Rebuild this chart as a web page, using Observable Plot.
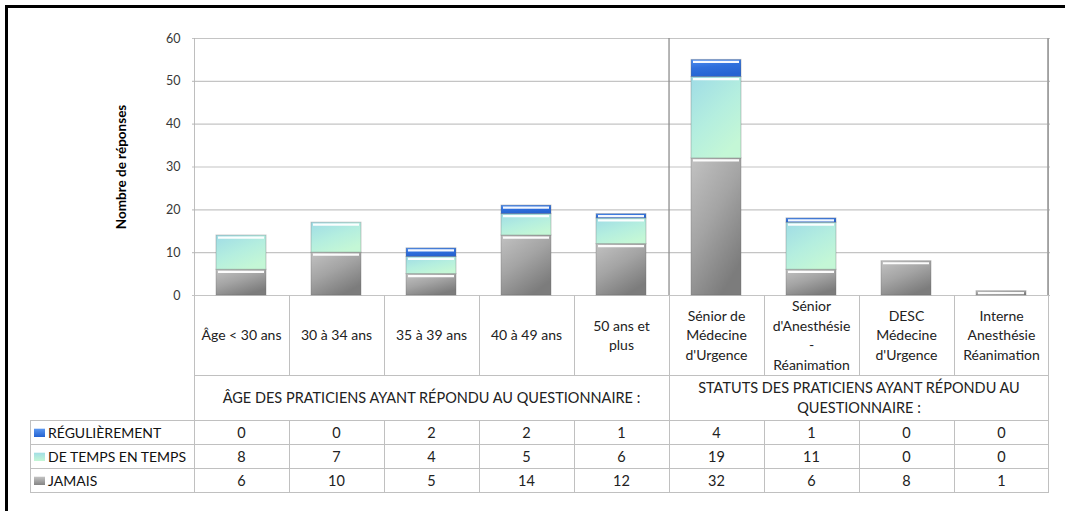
<!DOCTYPE html>
<html>
<head>
<meta charset="utf-8">
<script src="https://cdn.jsdelivr.net/npm/d3@7"></script>
<script src="https://cdn.jsdelivr.net/npm/@observablehq/plot@0.6"></script>
<style>
  html, body { margin: 0; padding: 0; background: #fff; }
  #wrap { position: relative; width: 1065px; height: 511px; overflow: hidden; background: #fff; font-family: Lato, "Open Sans", sans-serif; color: #222; }
  #wrap svg { position: absolute; left: 0; top: 0; }
  .ln { position: absolute; background: #c0c0c0; }
  .cell { position: absolute; display: flex; align-items: center; justify-content: center; text-align: center; white-space: pre-line; box-sizing: border-box; }
</style>
</head>
<body>
<div id="wrap"></div>
<script>
// ---------- data ----------
const categories = [
  "Âge < 30 ans",
  "30 à 34 ans",
  "35 à 39 ans",
  "40 à 49 ans",
  "50 ans et\nplus",
  "Sénior de\nMédecine\nd'Urgence",
  "Sénior\nd'Anesthésie\n-\nRéanimation",
  "DESC\nMédecine\nd'Urgence",
  "Interne\nAnesthésie\nRéanimation"
];
const series = ["JAMAIS", "DE TEMPS EN TEMPS", "RÉGULIÈREMENT"];
const jamais = [6, 10, 5, 14, 12, 32, 6, 8, 1];
const deTempsEnTemps = [8, 7, 4, 5, 6, 19, 11, 0, 0];
const regulierement = [0, 0, 2, 2, 1, 4, 1, 0, 0];
const yTicks = [0, 10, 20, 30, 40, 50, 60];
const yLabel = "Nombre de réponses";
const groupLabels = [
  "ÂGE DES PRATICIENS AYANT RÉPONDU AU QUESTIONNAIRE :",
  "STATUTS DES PRATICIENS AYANT RÉPONDU AU\nQUESTIONNAIRE :"
];
const groupSizes = [5, 4];

const seriesValues = [jamais, deTempsEnTemps, regulierement];
const data = categories.flatMap((c, i) =>
  series.map((s, j) => ({cat: c, series: s, value: seriesValues[j][i]}))
);

// ---------- layout ----------
const W = 1065, H = 300, mL = 192, mR = 15, mT = 38, mB = 5;
const bw = (W - mL - mR) / categories.length;
const barInsetL = 22, barInsetR = 23;
const gradIds = {"JAMAIS": "gJ", "DE TEMPS EN TEMPS": "gT", "RÉGULIÈREMENT": "gR"};

const chart = Plot.plot({
  width: W, height: H,
  marginLeft: mL, marginRight: mR, marginTop: mT, marginBottom: mB,
  style: {fontFamily: "Lato, sans-serif", fontSize: "12.5px", color: "#383838", background: "transparent", overflow: "visible"},
  x: {domain: categories, padding: 0, axis: null},
  y: {domain: [0, 60], ticks: yTicks, tickSize: 0, tickPadding: 12, label: null},
  color: {domain: series, range: series.map(s => `url(#${gradIds[s]})`)},
  marks: [
    Plot.ruleY(yTicks, {stroke: "#c4c4c4", strokeWidth: 1.2}),
    // left axis line
    Plot.barY([categories[0]], {x: d => d, y1: 0, y2: 60, fill: "#b4b4b4", insetRight: bw - 1.2}),
    // group separator
    Plot.barY([categories[groupSizes[0]]], {x: d => d, y1: 0, y2: 60, fill: "#8c8c8c", insetLeft: -0.6, insetRight: bw - 1.0}),
    // right border
    Plot.barY([categories[categories.length - 1]], {x: d => d, y1: 0, y2: 60, fill: "#a0a0a0", insetLeft: bw - 2.2}),
    Plot.barY(data, Plot.stackY({
      x: "cat", y: "value", fill: "series",
      insetLeft: barInsetL, insetRight: barInsetR,
      stroke: "#6a6a6a", strokeOpacity: 0.35, strokeWidth: 1
    })),
    Plot.tickY(data, Plot.stackY2({
      filter: d => d.value > 0,
      x: "cat", y: "value",
      stroke: "#ffffff", strokeWidth: 2.2, strokeOpacity: 0.95, dy: 2,
      insetLeft: barInsetL + 2, insetRight: barInsetR + 2
    })),
    Plot.text([yLabel], {
      text: d => d, frameAnchor: "left", textAnchor: "middle", dx: -71, rotate: -90,
      fontWeight: "bold", fontSize: 13.5, fill: "#000"
    })
  ]
});

// gradients
const svg = d3.select(chart.tagName === "svg" ? chart : chart.querySelector("svg"));
const defs = svg.insert("defs", ":first-child");
function grad(id, stops, x2 = 1, y2 = 1) {
  const g = defs.append("linearGradient").attr("id", id)
    .attr("x1", 0).attr("y1", 0).attr("x2", x2).attr("y2", y2);
  stops.forEach(([o, c]) => g.append("stop").attr("offset", o).attr("stop-color", c));
}
grad("gJ", [[0, "#c2c2c2"], [0.5, "#a4a4a4"], [1, "#7c7c7c"]], 0.6, 1);
grad("gT", [[0, "#9fdce6"], [0.55, "#b4eedf"], [1, "#c4f7d6"]], 0.6, 1);
grad("gR", [[0, "#4f8ef0"], [0.5, "#2f6fdc"], [1, "#2563d2"]], 0.3, 1);

const wrap = document.getElementById("wrap");

// black frame (top + left)
const frame = document.createElement("div");
Object.assign(frame.style, {position: "absolute", left: "5px", top: "5px", width: "1100px", height: "600px",
  borderLeft: "3px solid #000", borderTop: "3px solid #000"});
wrap.appendChild(frame);
wrap.appendChild(chart);

// ---------- table below, aligned on the x scale ----------
const xs = chart.scale("x");
const colX = categories.map(c => xs.apply(c));
const colW = xs.bandwidth;
const xEnd = colX[colX.length - 1] + colW;
const legendX = 30;

const rowCatTop = 295, rowCatBot = 375, rowHdrBot = 420, rowH = 24;

function line(x, y, w, h, color) {
  const d = document.createElement("div");
  d.className = "ln";
  Object.assign(d.style, {left: x + "px", top: y + "px", width: w + "px", height: h + "px"});
  if (color) d.style.background = color;
  wrap.appendChild(d);
}
function cell(x, y, w, h, text, css = {}) {
  const d = document.createElement("div");
  d.className = "cell";
  Object.assign(d.style, {left: x + "px", top: y + "px", width: w + "px", height: h + "px"}, css);
  d.textContent = text;
  wrap.appendChild(d);
  return d;
}

// category row
categories.forEach((c, i) => {
  line(colX[i], rowCatTop, 1, rowCatBot - rowCatTop);
  cell(colX[i], rowCatTop, colW, rowCatBot - rowCatTop, c, {fontSize: "14px", lineHeight: "19.5px", color: "#222"});
});
line(xEnd - 1, rowCatTop, 1, rowCatBot - rowCatTop);
line(colX[0], rowCatBot, xEnd - colX[0], 1);

// group header row
let gi = 0;
groupLabels.forEach((g, k) => {
  const x0 = colX[gi], x1 = colX[gi + groupSizes[k] - 1] + colW;
  line(x0, rowCatBot, 1, rowHdrBot - rowCatBot);
  cell(x0, rowCatBot, x1 - x0, rowHdrBot - rowCatBot, g, {fontSize: "14.5px", lineHeight: "20px", color: "#222", padding: "0 4px"});
  gi += groupSizes[k];
});
line(xEnd - 1, rowCatBot, 1, rowHdrBot - rowCatBot);

// data rows (top to bottom: RÉGULIÈREMENT, DE TEMPS EN TEMPS, JAMAIS)
const rowSeries = series.slice().reverse();
const iconBg = {
  "RÉGULIÈREMENT": "linear-gradient(180deg,#5f9bf2,#2563d2)",
  "DE TEMPS EN TEMPS": "linear-gradient(180deg,#9fdce6,#c4f7d6)",
  "JAMAIS": "linear-gradient(180deg,#c8c8c8,#858585)"
};
rowSeries.forEach((s, r) => {
  const y = rowHdrBot + r * rowH;
  line(legendX, y, xEnd - legendX, 1);
  line(legendX, y, 1, rowH);
  const lc = cell(legendX, y, colX[0] - legendX, rowH, "", {justifyContent: "flex-start", fontSize: "14px", color: "#111", paddingLeft: "4px"});
  const ic = document.createElement("span");
  Object.assign(ic.style, {display: "inline-block", width: "11px", height: "9px", background: iconBg[s], marginRight: "3px", boxShadow: "inset 0 1px 0 rgba(255,255,255,.7)"});
  lc.appendChild(ic);
  lc.appendChild(document.createTextNode(s));
  const vals = seriesValues[series.indexOf(s)];
  categories.forEach((c, i) => {
    line(colX[i], y, 1, rowH);
    cell(colX[i], y, colW, rowH, String(vals[i]), {fontSize: "14.5px", color: "#222"});
  });
  line(xEnd - 1, y, 1, rowH);
});
line(legendX, rowHdrBot + rowSeries.length * rowH, xEnd - legendX, 1);
</script>
</body>
</html>
